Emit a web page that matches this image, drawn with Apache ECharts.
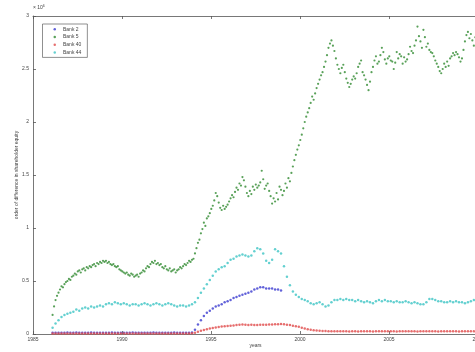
<!DOCTYPE html>
<html><head><meta charset="utf-8">
<script src="https://cdn.jsdelivr.net/npm/echarts@6/dist/echarts.min.js"></script>
<style>html,body{margin:0;padding:0;background:#fff}#c{width:475px;height:352px}</style>
</head><body><div id="c"></div>
<script>
var seriesNames = ['Bank 2', 'Bank 5', 'Bank 40', 'Bank 44'];
var xTicks = [1985, 1990, 1995, 2000, 2005, 2010];
var yTicks = [0, 0.5, 1, 1.5, 2, 2.5, 3];
var startYear = 1986.1;
var stepMonthly = 1 / 12;
var stepBimonthly = 1 / 6;

// Bank 5 (monthly, x 10^6)
var bank5 = [
0.18,0.26,0.32,0.36,0.39,0.42,0.45,0.44,0.47,0.49,0.50,0.52,
0.51,0.54,0.55,0.57,0.56,0.59,0.60,0.58,0.61,0.62,0.60,0.63,
0.62,0.64,0.63,0.65,0.66,0.64,0.67,0.66,0.68,0.67,0.69,0.68,
0.69,0.67,0.68,0.66,0.65,0.66,0.64,0.63,0.64,0.61,0.60,0.59,
0.58,0.57,0.58,0.56,0.55,0.57,0.56,0.54,0.55,0.56,0.54,0.57,
0.58,0.60,0.59,0.62,0.64,0.63,0.66,0.68,0.67,0.69,0.66,0.67,
0.65,0.66,0.63,0.62,0.64,0.61,0.60,0.62,0.59,0.60,0.61,0.58,
0.60,0.61,0.63,0.62,0.64,0.66,0.65,0.67,0.69,0.68,0.70,0.71,
0.76,0.81,0.86,0.89,0.95,0.99,1.05,1.02,1.09,1.11,1.14,1.18,
1.21,1.26,1.33,1.30,1.24,1.19,1.17,1.21,1.18,1.20,1.22,1.25,
1.28,1.31,1.29,1.34,1.38,1.36,1.42,1.40,1.48,1.45,1.39,1.33,
1.30,1.35,1.32,1.39,1.36,1.41,1.38,1.40,1.43,1.54,1.46,1.37,
1.40,1.42,1.35,1.30,1.23,1.28,1.25,1.33,1.27,1.39,1.36,1.31,
1.35,1.42,1.38,1.47,1.44,1.52,1.58,1.64,1.69,1.74,1.78,1.83,
1.88,1.94,2.00,2.05,2.09,2.13,2.18,2.24,2.21,2.27,2.32,2.36,
2.40,2.44,2.47,2.52,2.57,2.63,2.70,2.74,2.77,2.72,2.67,2.60,
2.54,2.50,2.46,2.51,2.54,2.47,2.41,2.37,2.33,2.36,2.40,2.43,
2.41,2.46,2.52,2.55,2.58,2.47,2.44,2.40,2.35,2.30,2.38,2.47,
2.52,2.58,2.62,2.55,2.57,2.63,2.70,2.66,2.59,2.55,2.60,2.62,
2.58,2.57,2.50,2.56,2.66,2.60,2.64,2.62,2.55,2.61,2.57,2.59,
2.64,2.71,2.67,2.65,2.72,2.77,2.90,2.81,2.76,2.70,2.87,2.80,
2.71,2.74,2.68,2.66,2.65,2.62,2.58,2.55,2.52,2.48,2.46,2.50,
2.55,2.52,2.57,2.53,2.60,2.62,2.65,2.63,2.66,2.64,2.61,2.57,
2.60,2.68,2.76,2.82,2.85,2.79,2.83,2.77,2.72,2.80,2.75,2.70
];

// Bank 44 (bimonthly)
var bank44 = [
0.06,0.10,0.13,0.16,0.18,0.19,
0.20,0.21,0.23,0.22,0.24,0.25,
0.24,0.26,0.25,0.26,0.27,0.26,
0.28,0.29,0.28,0.30,0.29,0.28,
0.29,0.28,0.27,0.28,0.28,0.27,
0.28,0.29,0.28,0.27,0.28,0.29,
0.28,0.27,0.28,0.29,0.28,0.27,
0.26,0.27,0.27,0.26,0.27,0.28,
0.30,0.34,0.39,0.43,0.47,0.51,
0.55,0.59,0.61,0.63,0.64,0.67,
0.70,0.71,0.73,0.74,0.75,0.74,
0.73,0.74,0.78,0.81,0.80,0.76,
0.69,0.67,0.70,0.80,0.78,0.76,
0.64,0.54,0.46,0.40,0.37,0.35,
0.33,0.32,0.31,0.29,0.28,0.29,
0.30,0.28,0.26,0.27,0.30,0.32,
0.32,0.33,0.32,0.33,0.32,0.32,
0.31,0.32,0.31,0.30,0.31,0.30,
0.29,0.31,0.32,0.31,0.32,0.31,
0.31,0.30,0.31,0.30,0.30,0.31,
0.30,0.29,0.30,0.29,0.28,0.28,
0.30,0.33,0.33,0.32,0.31,0.31,
0.30,0.30,0.31,0.30,0.31,0.30,
0.30,0.29,0.30,0.31,0.32,0.31
];

// Bank 40 (bimonthly)
var bank40 = [
0.005,0.005,0.004,0.005,0.005,0.004,
0.005,0.005,0.005,0.004,0.005,0.005,
0.004,0.005,0.005,0.005,0.004,0.005,
0.005,0.004,0.005,0.005,0.005,0.004,
0.005,0.005,0.004,0.005,0.005,0.005,
0.004,0.005,0.005,0.005,0.004,0.005,
0.005,0.004,0.005,0.005,0.005,0.004,
0.005,0.005,0.004,0.005,0.005,0.006,
0.012,0.022,0.031,0.038,0.045,0.052,
0.057,0.062,0.066,0.070,0.073,0.075,
0.078,0.081,0.084,0.087,0.089,0.088,
0.086,0.087,0.085,0.086,0.088,0.087,
0.088,0.089,0.090,0.091,0.093,0.094,
0.092,0.088,0.084,0.079,0.074,0.068,
0.060,0.052,0.045,0.040,0.036,0.033,
0.031,0.029,0.028,0.027,0.026,0.026,
0.025,0.026,0.025,0.025,0.024,0.025,
0.025,0.024,0.025,0.026,0.025,0.025,
0.024,0.025,0.025,0.025,0.026,0.025,
0.025,0.025,0.024,0.025,0.025,0.026,
0.025,0.025,0.025,0.024,0.025,0.025,
0.026,0.025,0.025,0.025,0.024,0.025,
0.025,0.026,0.025,0.025,0.025,0.024,
0.025,0.025,0.026,0.025,0.025,0.025
];

// Bank 2 (bimonthly, ends 1999)
var bank2 = [
0.012,0.012,0.011,0.012,0.012,0.013,
0.012,0.012,0.013,0.012,0.011,0.012,
0.012,0.013,0.012,0.012,0.012,0.011,
0.012,0.012,0.013,0.012,0.012,0.012,
0.011,0.012,0.012,0.013,0.012,0.012,
0.012,0.011,0.012,0.012,0.013,0.012,
0.012,0.012,0.011,0.012,0.012,0.013,
0.012,0.012,0.012,0.011,0.012,0.014,
0.04,0.09,0.13,0.17,0.20,0.22,
0.24,0.26,0.27,0.28,0.30,0.31,
0.32,0.34,0.35,0.36,0.37,0.38,
0.39,0.40,0.42,0.43,0.44,0.44,
0.43,0.43,0.43,0.42,0.42,0.41
];

function pts(arr, step) {
  return arr.map(function (v, i) { return [startYear + i * step, v]; });
}

var colors = ['#3b3bd0', '#2f8a2f', '#e04a4a', '#3cc4c4'];
var chart = echarts.init(document.getElementById('c'), null, {renderer: 'canvas'});
var axisColor = '#555';
var labelStyle = {fontSize: 5, color: '#444', fontFamily: 'Liberation Sans'};
chart.setOption({
  animation: false,
  backgroundColor: '#fff',
  grid: {left: 33, right: -3, top: 16, bottom: 18, containLabel: false, outerBoundsMode: 'none'},
  legend: {
    orient: 'vertical', left: 42.5, top: 24,
    data: seriesNames,
    icon: 'circle', itemWidth: 2.5, itemHeight: 2.5, itemGap: 1.7,
    padding: [2.3, 6, 2, 11],
    borderColor: '#444', borderWidth: 0.6,
    textStyle: {fontSize: 5, color: '#444', lineHeight: 6, fontFamily: 'Liberation Sans', padding: [0, 0, 0, 2]}
  },
  xAxis: [{
    type: 'value', min: xTicks[0], max: xTicks[xTicks.length - 1], interval: 5,
    name: 'years', nameLocation: 'middle', nameGap: 9, nameMoveOverlap: false,
    nameTextStyle: labelStyle,
    axisLine: {lineStyle: {color: axisColor, width: 0.8}},
    axisTick: {inside: true, length: 3, lineStyle: {color: axisColor, width: 0.8}},
    axisLabel: Object.assign({margin: 3, formatter: function (v) { return String(v); }}, labelStyle),
    splitLine: {show: false}
  }, {
    type: 'value', position: 'top', min: xTicks[0], max: xTicks[xTicks.length - 1], interval: 5,
    axisLine: {show: true, lineStyle: {color: axisColor, width: 0.8}},
    axisTick: {inside: true, length: 3, lineStyle: {color: axisColor, width: 0.8}},
    axisLabel: {show: false}, splitLine: {show: false}
  }],
  yAxis: {
    type: 'value', min: yTicks[0], max: yTicks[yTicks.length - 1], interval: 0.5,
    name: 'order of difference in shareholder equity', nameLocation: 'middle', nameGap: 14, nameRotate: 90, nameMoveOverlap: false,
    nameTextStyle: labelStyle,
    axisLine: {show: true, lineStyle: {color: axisColor, width: 0.8}},
    axisTick: {show: true, inside: true, length: 3, lineStyle: {color: axisColor, width: 0.8}},
    axisLabel: Object.assign({margin: 4}, labelStyle),
    splitLine: {show: false}
  },
  graphic: [{
    type: 'text', left: 33, top: 4,
    style: {text: '{a|× 10}{b|6}', rich: {a: {fontSize: 5, fill: '#444', fontFamily: 'Liberation Sans'}, b: {fontSize: 3.5, fill: '#444', verticalAlign: 'top', padding: [0, 0, 3, 0], fontFamily: 'Liberation Sans'}}}
  }],
  series: [
    {name: seriesNames[0], type: 'scatter', data: pts(bank2, stepBimonthly), symbolSize: 2.5, itemStyle: {color: colors[0]}},
    {name: seriesNames[1], type: 'scatter', data: pts(bank5, stepMonthly), symbolSize: 2.2, itemStyle: {color: colors[1]}},
    {name: seriesNames[2], type: 'scatter', data: pts(bank40, stepBimonthly), symbolSize: 2.5, itemStyle: {color: colors[2]}},
    {name: seriesNames[3], type: 'scatter', data: pts(bank44, stepBimonthly), symbolSize: 2.5, itemStyle: {color: colors[3]}}
  ]
});
</script></body></html>
